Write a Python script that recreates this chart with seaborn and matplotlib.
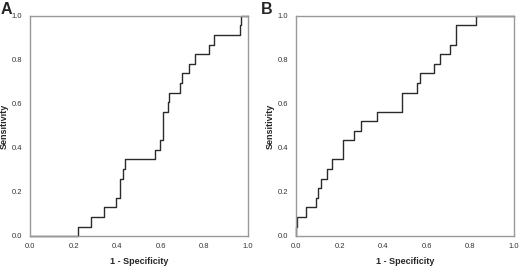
import numpy as np
import pandas as pd
import matplotlib
matplotlib.use('Agg')
import matplotlib.pyplot as plt
import seaborn as sns

# ROC corner points (steps-post)
fpr_a = [0.0, 0.222, 0.278, 0.338, 0.394, 0.413, 0.425, 0.434, 0.575, 0.596, 0.609,
         0.631, 0.639, 0.687, 0.695, 0.729, 0.756, 0.821, 0.846, 0.962, 0.969, 1.0]
tpr_a = [0.0, 0.043, 0.087, 0.130, 0.174, 0.261, 0.304, 0.348, 0.391, 0.435, 0.565,
         0.609, 0.652, 0.696, 0.739, 0.783, 0.826, 0.870, 0.913, 0.957, 1.0, 1.0]

fpr_b = [0.0, 0.0, 0.005, 0.046, 0.090, 0.102, 0.113, 0.144, 0.164, 0.214, 0.267,
         0.297, 0.373, 0.486, 0.554, 0.569, 0.634, 0.661, 0.706, 0.732, 0.826, 1.0]
tpr_b = [0.0, 0.043, 0.087, 0.130, 0.174, 0.217, 0.261, 0.304, 0.348, 0.435, 0.478,
         0.522, 0.565, 0.652, 0.696, 0.739, 0.783, 0.826, 0.870, 0.957, 1.0, 1.0]

ticks = [0.0, 0.2, 0.4, 0.6, 0.8, 1.0]
panel_labels = ['A', 'B']

sns.set_style('white')
plt.rcParams['font.family'] = ['Liberation Sans', 'DejaVu Sans']

fig = plt.figure(figsize=(5.2, 2.68), dpi=100)
ax_a = fig.add_axes([30 / 520, 32 / 268, 218 / 520, 220 / 268])
ax_b = fig.add_axes([296 / 520, 32 / 268, 218 / 520, 220 / 268])

for ax, fpr, tpr in [(ax_a, fpr_a, tpr_a), (ax_b, fpr_b, tpr_b)]:
    df = pd.DataFrame({'fpr': fpr, 'tpr': tpr})
    sns.lineplot(data=df, x='fpr', y='tpr', ax=ax, sort=False, estimator=None,
                 drawstyle='steps-post', color='#2b2b2b', linewidth=1.0, clip_on=False)
    ax.set_xlim(0, 1)
    ax.set_ylim(0, 1)
    ax.set_xticks(ticks)
    ax.set_yticks(ticks)
    ax.set_xticklabels([f'{t:.1f}' for t in ticks])
    ax.set_yticklabels([f'{t:.1f}' for t in ticks])
    ax.tick_params(axis='x', direction='out', length=3, width=0.8, color='#555555',
                   labelsize=5.5, labelcolor='#333333', pad=2)
    ax.tick_params(axis='y', direction='out', length=4, width=0.8, color='#555555',
                   labelsize=5.5, labelcolor='#333333', pad=1.5)
    for sp in ax.spines.values():
        sp.set_color('#999999')
        sp.set_linewidth(1.0)
    ax.set_xlabel('1 - Specificity', fontsize=6.5, fontweight='bold', labelpad=5)
    ax.set_ylabel('Sensitivity', fontsize=6.5, fontweight='bold', labelpad=2)

fig.text(1 / 520, 1 - 14 / 268, panel_labels[0], fontsize=11.5, fontweight='bold')
fig.text(261 / 520, 1 - 14 / 268, panel_labels[1], fontsize=11.5, fontweight='bold')

fig.savefig('out.png', dpi=100)
